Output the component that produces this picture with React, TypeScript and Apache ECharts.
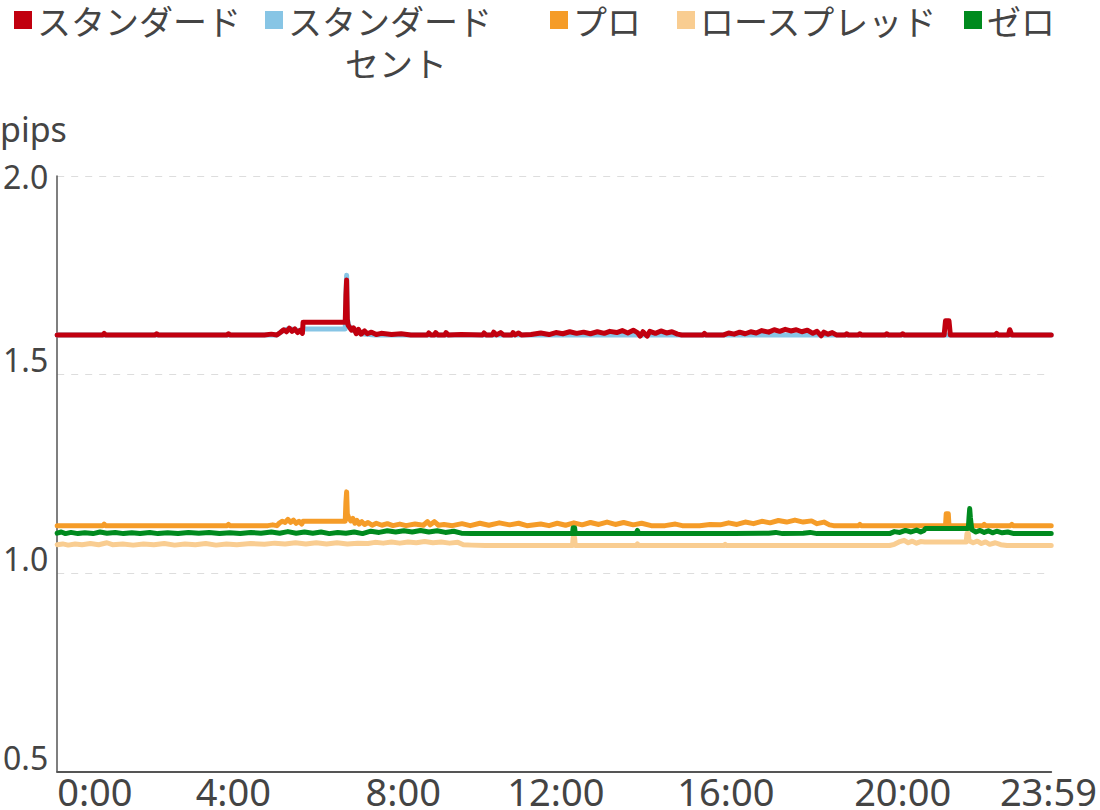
import React, { useEffect, useRef } from 'react';
import * as echarts from 'echarts';

// series names / colours, in legend order
const seriesNames = ['スタンダード', 'スタンダード セント', 'プロ', 'ロースプレッド', 'ゼロ'];
const seriesColors = ['#c1000f', '#87c5e5', '#f59c28', '#f9cd91', '#008a1e'];

// x = minute of the day (sample index), tick labels where the reference shows them
const xTickPositions = [0, 255, 501, 722, 968, 1224, 1435];
const xTickLabels = ['0:00', '4:00', '8:00', '12:00', '16:00', '20:00', '23:59'];

// [minute, pips]
const standard: [number, number][] = [
  [0, 1.6], [66, 1.6], [68, 1.604], [70, 1.6], [142, 1.6], [144, 1.603], [146, 1.6], [246, 1.6], [248, 1.603], [250, 1.6],
  [300, 1.6], [310, 1.602], [318, 1.6], [323, 1.606], [328, 1.613], [332, 1.608], [336, 1.617], [340, 1.609], [344, 1.615],
  [348, 1.606], [352, 1.612], [355, 1.604], [356, 1.632], [417, 1.632], [418, 1.7], [419, 1.738], [420, 1.64], [421, 1.625],
  [426, 1.612], [429, 1.618], [433, 1.603], [436, 1.614], [440, 1.602], [445, 1.61], [449, 1.603], [455, 1.607], [462, 1.601],
  [469, 1.604], [484, 1.601], [498, 1.603], [512, 1.6], [536, 1.6], [538, 1.605], [541, 1.6], [546, 1.6], [548, 1.606],
  [551, 1.6], [561, 1.6], [563, 1.606], [566, 1.6], [585, 1.601], [616, 1.6], [618, 1.605], [621, 1.6], [630, 1.6],
  [632, 1.607], [636, 1.6], [642, 1.606], [646, 1.6], [658, 1.6], [660, 1.606], [663, 1.6], [668, 1.605], [672, 1.6],
  [686, 1.601], [700, 1.605], [712, 1.601], [722, 1.606], [732, 1.603], [742, 1.608], [752, 1.604], [762, 1.607],
  [772, 1.603], [782, 1.608], [792, 1.604], [800, 1.609], [810, 1.606], [818, 1.611], [826, 1.605], [834, 1.612],
  [840, 1.606], [844, 1.597], [848, 1.608], [854, 1.597], [858, 1.609], [866, 1.604], [874, 1.61], [882, 1.605],
  [890, 1.608], [898, 1.602], [904, 1.6], [935, 1.6], [937, 1.604], [939, 1.6], [965, 1.6], [972, 1.605], [980, 1.602],
  [988, 1.607], [996, 1.603], [1004, 1.608], [1012, 1.605], [1020, 1.611], [1030, 1.607], [1038, 1.613], [1046, 1.609],
  [1054, 1.614], [1062, 1.61], [1070, 1.613], [1078, 1.608], [1086, 1.612], [1094, 1.604], [1100, 1.609], [1106, 1.598],
  [1110, 1.607], [1116, 1.602], [1122, 1.606], [1128, 1.6], [1141, 1.6], [1143, 1.603], [1145, 1.6], [1160, 1.6],
  [1162, 1.603], [1164, 1.6], [1199, 1.6], [1201, 1.603], [1203, 1.6], [1222, 1.6], [1224, 1.603], [1226, 1.6],
  [1284, 1.6], [1286, 1.636], [1291, 1.636], [1293, 1.6], [1358, 1.6], [1360, 1.604], [1362, 1.6], [1377, 1.6],
  [1379, 1.613], [1382, 1.6], [1439, 1.6],
];

const standardCent: [number, number][] = [
  [0, 1.6], [300, 1.6], [318, 1.6], [328, 1.612], [336, 1.616], [344, 1.613], [352, 1.61], [356, 1.615], [417, 1.615],
  [418, 1.7], [419, 1.75], [420, 1.64], [422, 1.624], [430, 1.61], [440, 1.603], [460, 1.6], [1439, 1.6],
];

const pro: [number, number][] = [
  [0, 1.12], [66, 1.12], [68, 1.124], [70, 1.12], [246, 1.12], [248, 1.123], [250, 1.12], [305, 1.12], [312, 1.122],
  [318, 1.12], [322, 1.127], [326, 1.131], [330, 1.128], [334, 1.136], [338, 1.128], [342, 1.134], [346, 1.126],
  [350, 1.131], [354, 1.124], [356, 1.131], [417, 1.131], [418, 1.18], [419, 1.205], [420, 1.15], [422, 1.14],
  [425, 1.132], [428, 1.138], [431, 1.126], [434, 1.133], [437, 1.124], [441, 1.13], [445, 1.123], [450, 1.128],
  [456, 1.121], [462, 1.126], [470, 1.121], [478, 1.125], [486, 1.12], [496, 1.124], [505, 1.12], [518, 1.124],
  [530, 1.121], [536, 1.13], [540, 1.122], [546, 1.13], [552, 1.121], [560, 1.123], [572, 1.12], [586, 1.125],
  [598, 1.12], [612, 1.126], [625, 1.121], [640, 1.127], [655, 1.122], [668, 1.126], [680, 1.12], [700, 1.124],
  [712, 1.12], [724, 1.126], [736, 1.121], [748, 1.127], [760, 1.122], [772, 1.128], [784, 1.123], [796, 1.129],
  [808, 1.123], [820, 1.128], [834, 1.122], [846, 1.126], [860, 1.12], [880, 1.12], [895, 1.124], [905, 1.12],
  [930, 1.12], [945, 1.123], [960, 1.122], [972, 1.127], [984, 1.123], [996, 1.129], [1008, 1.125], [1020, 1.131],
  [1032, 1.127], [1044, 1.133], [1056, 1.129], [1068, 1.134], [1080, 1.129], [1092, 1.132], [1100, 1.125],
  [1110, 1.129], [1118, 1.122], [1124, 1.12], [1160, 1.12], [1162, 1.123], [1164, 1.12], [1286, 1.12], [1287, 1.15],
  [1290, 1.15], [1291, 1.12], [1340, 1.12], [1342, 1.123], [1344, 1.12], [1380, 1.12], [1382, 1.123], [1384, 1.12],
  [1439, 1.12],
];

const lowSpread: [number, number][] = [
  [0, 1.072], [8, 1.074], [16, 1.071], [26, 1.074], [36, 1.072], [48, 1.075], [60, 1.072], [72, 1.077], [80, 1.072],
  [95, 1.074], [110, 1.071], [125, 1.074], [140, 1.072], [155, 1.075], [170, 1.071], [185, 1.074], [200, 1.072],
  [215, 1.075], [230, 1.071], [245, 1.074], [260, 1.072], [280, 1.075], [300, 1.073], [315, 1.076], [330, 1.074],
  [345, 1.077], [360, 1.074], [375, 1.077], [390, 1.074], [405, 1.077], [420, 1.074], [435, 1.076], [450, 1.075],
  [460, 1.078], [472, 1.076], [484, 1.079], [496, 1.076], [508, 1.079], [520, 1.077], [532, 1.08], [544, 1.077],
  [556, 1.079], [568, 1.076], [580, 1.078], [588, 1.072], [600, 1.071], [620, 1.07], [746, 1.07], [747, 1.09],
  [749, 1.09], [750, 1.07], [838, 1.07], [840, 1.074], [842, 1.07], [965, 1.07], [967, 1.073], [969, 1.07],
  [1205, 1.07], [1212, 1.073], [1220, 1.08], [1226, 1.083], [1232, 1.077], [1238, 1.081], [1244, 1.076], [1250, 1.08],
  [1256, 1.079], [1316, 1.079], [1317, 1.1], [1319, 1.1], [1320, 1.082], [1326, 1.077], [1332, 1.081], [1338, 1.075],
  [1344, 1.079], [1350, 1.073], [1358, 1.077], [1366, 1.072], [1375, 1.07], [1439, 1.07],
];

const zero: [number, number][] = [
  [0, 1.101], [6, 1.104], [12, 1.1], [20, 1.103], [30, 1.1], [40, 1.102], [52, 1.1], [62, 1.104], [72, 1.101],
  [84, 1.103], [96, 1.1], [108, 1.102], [120, 1.1], [134, 1.103], [146, 1.1], [160, 1.102], [175, 1.1], [190, 1.103],
  [205, 1.101], [220, 1.103], [235, 1.1], [250, 1.102], [265, 1.1], [280, 1.103], [295, 1.101], [310, 1.104],
  [322, 1.101], [334, 1.105], [346, 1.101], [358, 1.104], [370, 1.101], [382, 1.104], [394, 1.1], [406, 1.103],
  [418, 1.101], [430, 1.104], [442, 1.1], [454, 1.106], [466, 1.103], [478, 1.107], [490, 1.104], [502, 1.107],
  [514, 1.104], [526, 1.108], [538, 1.104], [550, 1.107], [562, 1.103], [574, 1.106], [585, 1.101], [600, 1.1],
  [746, 1.1], [747, 1.115], [749, 1.115], [750, 1.1], [838, 1.1], [840, 1.108], [842, 1.1], [980, 1.1], [1030, 1.101],
  [1040, 1.103], [1050, 1.1], [1080, 1.101], [1090, 1.103], [1100, 1.1], [1205, 1.1], [1212, 1.105], [1220, 1.103],
  [1228, 1.108], [1236, 1.104], [1244, 1.109], [1250, 1.104], [1255, 1.108], [1257, 1.113], [1319, 1.113],
  [1320, 1.14], [1321, 1.163], [1322, 1.14], [1324, 1.11], [1330, 1.104], [1336, 1.108], [1342, 1.103], [1348, 1.107],
  [1354, 1.102], [1360, 1.106], [1368, 1.102], [1376, 1.104], [1385, 1.1], [1439, 1.1],
];

const seriesData = [standard, standardCent, pro, lowSpread, zero];

const legendLeft = [14, 265, 550, 677, 964];
const textColor = '#444';
const labelFont = { fontSize: 32, fontFamily: 'Noto Sans', color: textColor };

const App: React.FC = () => {
  const chartRef = useRef<HTMLDivElement>(null);

  useEffect(() => {
    document.body.style.margin = '0';
    if (!chartRef.current) return;
    const chart = echarts.init(chartRef.current, undefined, { renderer: 'svg' });

    chart.setOption({
      animation: false,
      legend: seriesNames.map((name, i) => ({
        data: [name],
        left: legendLeft[i],
        top: 3,
        padding: 0,
        icon: 'rect',
        itemWidth: 18,
        itemHeight: 18,
        selectedMode: false,
        // the second item's label wraps; its second line is drawn below
        formatter: (n: string) => (n === 'スタンダード セント' ? 'スタンダード' : n),
        textStyle: { fontSize: 34, color: textColor, fontFamily: 'Noto Sans CJK JP' },
      })),
      graphic: [
        {
          type: 'text',
          left: 345,
          top: 45,
          style: { text: 'セント', fontSize: 34, fill: textColor, fontFamily: 'Noto Sans CJK JP' },
        },
        {
          type: 'text',
          left: 0,
          top: 112,
          style: { text: 'pips', fontSize: 34, fill: textColor, fontFamily: 'Noto Sans' },
        },
      ],
      grid: { left: 54, right: 48, top: 176, bottom: 37 },
      xAxis: {
        type: 'value',
        min: 0,
        max: 1439,
        splitLine: { show: false },
        axisTick: { show: false },
        axisLine: { lineStyle: { color: '#555', width: 2 } },
        axisLabel: {
          customValues: xTickPositions,
          formatter: (v: number) => xTickLabels[xTickPositions.indexOf(v)] ?? '',
          alignMinLabel: 'left',
          fontSize: 38,
          lineHeight: 34,
          fontFamily: 'Noto Sans',
          color: textColor,
          margin: 2,
        },
      },
      yAxis: {
        type: 'value',
        min: 0.5,
        max: 2.0,
        interval: 0.5,
        axisLine: { show: true, lineStyle: { color: '#555', width: 1.5 } },
        axisTick: { show: false },
        splitLine: { lineStyle: { color: '#dddddd', type: [7, 7], width: 1 } },
        axisLabel: {
          // top label sits on its grid line, the others just above theirs
          formatter: (v: number) => (v === 2 ? `{mid|${v.toFixed(1)}}` : `{up|${v.toFixed(1)}}`),
          rich: {
            mid: { ...labelFont },
            up: { ...labelFont, padding: [0, 0, 30, 0] },
          },
          ...labelFont,
          verticalAlign: 'middle',
          margin: 9,
        },
      },
      series: seriesNames.map((name, i) => ({
        name,
        type: 'line',
        data: seriesData[i],
        showSymbol: false,
        z: i === 0 ? 3 : 2,
        color: seriesColors[i],
        lineStyle: { width: 5, color: seriesColors[i], join: 'round', cap: 'round' },
      })),
    });

    const handleResize = () => chart.resize();
    window.addEventListener('resize', handleResize);
    return () => {
      window.removeEventListener('resize', handleResize);
      chart.dispose();
    };
  }, []);

  return <div ref={chartRef} style={{ width: 1100, height: 810 }} />;
};

export default App;
